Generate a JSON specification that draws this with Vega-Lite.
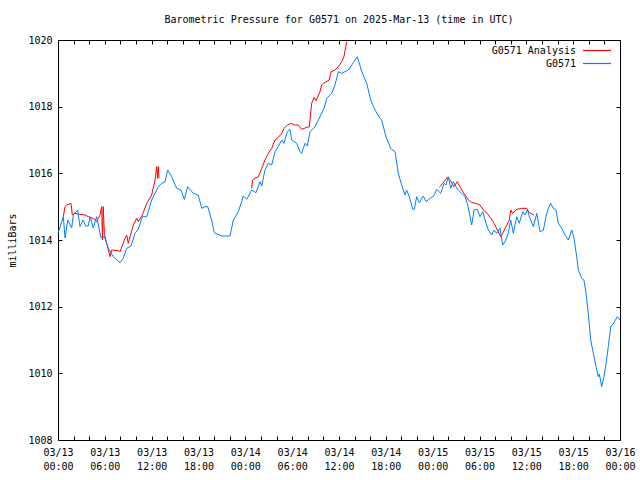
{
  "$schema": "https://vega.github.io/schema/vega-lite/v6.json",
  "width": 562,
  "height": 400,
  "autosize": "none",
  "padding": {"left": 58, "top": 40, "right": 20, "bottom": 40},
  "background": "white",
  "config": {
    "view": {"stroke": "black", "strokeWidth": 1},
    "font": "DejaVu Sans Mono",
    "axis": {"grid": false, "domain": false, "tickColor": "black", "labelColor": "black", "titleColor": "black", "labelFont": "DejaVu Sans Mono", "titleFont": "DejaVu Sans Mono", "labelFontSize": 10, "titleFontSize": 10, "titleFontWeight": "normal"}
  },
  "title": {"text": "Barometric Pressure for G0571 on 2025-Mar-13 (time in UTC)", "font": "DejaVu Sans Mono", "fontSize": 10, "fontWeight": "normal", "color": "black", "anchor": "middle", "offset": 10},
  "datasets": {
    "obs": [
      {"t": "2025-03-13T00:00:00Z", "p": 1014.2},
      {"t": "2025-03-13T00:41:00Z", "p": 1014.7},
      {"t": "2025-03-13T00:54:00Z", "p": 1014.06},
      {"t": "2025-03-13T01:15:00Z", "p": 1014.6},
      {"t": "2025-03-13T01:45:00Z", "p": 1014.36},
      {"t": "2025-03-13T01:58:00Z", "p": 1014.75},
      {"t": "2025-03-13T02:31:00Z", "p": 1014.9},
      {"t": "2025-03-13T02:49:00Z", "p": 1014.4},
      {"t": "2025-03-13T03:14:00Z", "p": 1014.6},
      {"t": "2025-03-13T03:33:00Z", "p": 1014.42},
      {"t": "2025-03-13T03:53:00Z", "p": 1014.42},
      {"t": "2025-03-13T04:06:00Z", "p": 1014.7},
      {"t": "2025-03-13T04:31:00Z", "p": 1014.36},
      {"t": "2025-03-13T04:57:00Z", "p": 1014.7},
      {"t": "2025-03-13T05:31:00Z", "p": 1014.06},
      {"t": "2025-03-13T05:56:00Z", "p": 1014.1},
      {"t": "2025-03-13T06:27:00Z", "p": 1013.75},
      {"t": "2025-03-13T07:05:00Z", "p": 1013.5},
      {"t": "2025-03-13T07:57:00Z", "p": 1013.32},
      {"t": "2025-03-13T08:22:00Z", "p": 1013.45},
      {"t": "2025-03-13T08:48:00Z", "p": 1013.75},
      {"t": "2025-03-13T09:21:00Z", "p": 1013.82},
      {"t": "2025-03-13T09:52:00Z", "p": 1014.2},
      {"t": "2025-03-13T10:17:00Z", "p": 1014.32},
      {"t": "2025-03-13T10:48:00Z", "p": 1014.7},
      {"t": "2025-03-13T11:22:00Z", "p": 1014.7},
      {"t": "2025-03-13T12:00:00Z", "p": 1015.2},
      {"t": "2025-03-13T12:51:00Z", "p": 1015.6},
      {"t": "2025-03-13T13:17:00Z", "p": 1015.7},
      {"t": "2025-03-13T13:43:00Z", "p": 1015.75},
      {"t": "2025-03-13T14:03:00Z", "p": 1016.1},
      {"t": "2025-03-13T14:34:00Z", "p": 1015.9},
      {"t": "2025-03-13T15:12:00Z", "p": 1015.55},
      {"t": "2025-03-13T15:45:00Z", "p": 1015.5},
      {"t": "2025-03-13T16:11:00Z", "p": 1015.22},
      {"t": "2025-03-13T16:37:00Z", "p": 1015.6},
      {"t": "2025-03-13T17:20:00Z", "p": 1015.4},
      {"t": "2025-03-13T17:58:00Z", "p": 1015.35},
      {"t": "2025-03-13T18:25:00Z", "p": 1014.95},
      {"t": "2025-03-13T18:50:00Z", "p": 1015.0},
      {"t": "2025-03-13T19:11:00Z", "p": 1015.0},
      {"t": "2025-03-13T19:41:00Z", "p": 1014.6},
      {"t": "2025-03-13T20:01:00Z", "p": 1014.22},
      {"t": "2025-03-13T20:58:00Z", "p": 1014.12},
      {"t": "2025-03-13T22:02:00Z", "p": 1014.12},
      {"t": "2025-03-13T22:28:00Z", "p": 1014.6},
      {"t": "2025-03-13T23:06:00Z", "p": 1014.85},
      {"t": "2025-03-13T23:32:00Z", "p": 1015.15},
      {"t": "2025-03-13T23:44:00Z", "p": 1015.32},
      {"t": "2025-03-14T00:11:00Z", "p": 1015.22},
      {"t": "2025-03-14T00:49:00Z", "p": 1015.5},
      {"t": "2025-03-14T01:22:00Z", "p": 1015.42},
      {"t": "2025-03-14T01:53:00Z", "p": 1015.75},
      {"t": "2025-03-14T02:06:00Z", "p": 1015.62},
      {"t": "2025-03-14T02:31:00Z", "p": 1016.1},
      {"t": "2025-03-14T02:57:00Z", "p": 1016.3},
      {"t": "2025-03-14T03:23:00Z", "p": 1016.25},
      {"t": "2025-03-14T03:48:00Z", "p": 1016.65},
      {"t": "2025-03-14T04:13:00Z", "p": 1016.8},
      {"t": "2025-03-14T04:40:00Z", "p": 1017.0},
      {"t": "2025-03-14T04:57:00Z", "p": 1016.9},
      {"t": "2025-03-14T05:23:00Z", "p": 1017.25},
      {"t": "2025-03-14T05:43:00Z", "p": 1017.32},
      {"t": "2025-03-14T05:56:00Z", "p": 1017.0},
      {"t": "2025-03-14T06:35:00Z", "p": 1016.9},
      {"t": "2025-03-14T07:00:00Z", "p": 1016.65},
      {"t": "2025-03-14T07:13:00Z", "p": 1016.6},
      {"t": "2025-03-14T07:39:00Z", "p": 1016.9},
      {"t": "2025-03-14T07:56:00Z", "p": 1016.82},
      {"t": "2025-03-14T08:17:00Z", "p": 1017.25},
      {"t": "2025-03-14T08:56:00Z", "p": 1017.4},
      {"t": "2025-03-14T09:34:00Z", "p": 1017.7},
      {"t": "2025-03-14T10:05:00Z", "p": 1017.95},
      {"t": "2025-03-14T10:26:00Z", "p": 1018.25},
      {"t": "2025-03-14T11:04:00Z", "p": 1018.4},
      {"t": "2025-03-14T11:29:00Z", "p": 1018.65},
      {"t": "2025-03-14T11:55:00Z", "p": 1019.05},
      {"t": "2025-03-14T12:21:00Z", "p": 1019.0},
      {"t": "2025-03-14T12:46:00Z", "p": 1019.05},
      {"t": "2025-03-14T13:12:00Z", "p": 1019.1},
      {"t": "2025-03-14T13:50:00Z", "p": 1019.32},
      {"t": "2025-03-14T14:21:00Z", "p": 1019.5},
      {"t": "2025-03-14T14:55:00Z", "p": 1019.05},
      {"t": "2025-03-14T15:33:00Z", "p": 1018.7},
      {"t": "2025-03-14T16:04:00Z", "p": 1018.2},
      {"t": "2025-03-14T16:37:00Z", "p": 1017.9},
      {"t": "2025-03-14T17:15:00Z", "p": 1017.65},
      {"t": "2025-03-14T17:28:00Z", "p": 1017.6},
      {"t": "2025-03-14T18:01:00Z", "p": 1017.1},
      {"t": "2025-03-14T18:37:00Z", "p": 1016.75},
      {"t": "2025-03-14T19:11:00Z", "p": 1016.65},
      {"t": "2025-03-14T19:36:00Z", "p": 1016.0},
      {"t": "2025-03-14T20:02:00Z", "p": 1015.65},
      {"t": "2025-03-14T20:27:00Z", "p": 1015.35},
      {"t": "2025-03-14T20:40:00Z", "p": 1015.5},
      {"t": "2025-03-14T21:00:00Z", "p": 1015.3},
      {"t": "2025-03-14T21:27:00Z", "p": 1014.92},
      {"t": "2025-03-14T21:39:00Z", "p": 1014.92},
      {"t": "2025-03-14T21:57:00Z", "p": 1015.3},
      {"t": "2025-03-14T22:17:00Z", "p": 1015.12},
      {"t": "2025-03-14T22:48:00Z", "p": 1015.32},
      {"t": "2025-03-14T23:09:00Z", "p": 1015.15},
      {"t": "2025-03-14T23:40:00Z", "p": 1015.25},
      {"t": "2025-03-15T00:10:00Z", "p": 1015.33},
      {"t": "2025-03-15T00:31:00Z", "p": 1015.52},
      {"t": "2025-03-15T01:02:00Z", "p": 1015.4},
      {"t": "2025-03-15T01:27:00Z", "p": 1015.7},
      {"t": "2025-03-15T01:43:00Z", "p": 1015.65},
      {"t": "2025-03-15T02:00:00Z", "p": 1015.9},
      {"t": "2025-03-15T02:19:00Z", "p": 1015.55},
      {"t": "2025-03-15T02:39:00Z", "p": 1015.75},
      {"t": "2025-03-15T02:59:00Z", "p": 1015.6},
      {"t": "2025-03-15T03:17:00Z", "p": 1015.5},
      {"t": "2025-03-15T03:43:00Z", "p": 1015.4},
      {"t": "2025-03-15T04:09:00Z", "p": 1015.3},
      {"t": "2025-03-15T04:26:00Z", "p": 1015.1},
      {"t": "2025-03-15T04:42:00Z", "p": 1014.82},
      {"t": "2025-03-15T05:00:00Z", "p": 1014.45},
      {"t": "2025-03-15T05:18:00Z", "p": 1014.9},
      {"t": "2025-03-15T05:43:00Z", "p": 1014.92},
      {"t": "2025-03-15T06:04:00Z", "p": 1014.7},
      {"t": "2025-03-15T06:25:00Z", "p": 1014.85},
      {"t": "2025-03-15T06:50:00Z", "p": 1014.5},
      {"t": "2025-03-15T07:08:00Z", "p": 1014.3},
      {"t": "2025-03-15T07:34:00Z", "p": 1014.15},
      {"t": "2025-03-15T07:52:00Z", "p": 1014.3},
      {"t": "2025-03-15T08:12:00Z", "p": 1014.2},
      {"t": "2025-03-15T08:38:00Z", "p": 1014.35},
      {"t": "2025-03-15T08:58:00Z", "p": 1013.85},
      {"t": "2025-03-15T09:16:00Z", "p": 1013.95},
      {"t": "2025-03-15T09:41:00Z", "p": 1014.2},
      {"t": "2025-03-15T10:00:00Z", "p": 1014.6},
      {"t": "2025-03-15T10:20:00Z", "p": 1014.2},
      {"t": "2025-03-15T10:46:00Z", "p": 1014.7},
      {"t": "2025-03-15T11:06:00Z", "p": 1014.5},
      {"t": "2025-03-15T11:32:00Z", "p": 1014.85},
      {"t": "2025-03-15T11:50:00Z", "p": 1014.75},
      {"t": "2025-03-15T12:08:00Z", "p": 1014.9},
      {"t": "2025-03-15T12:28:00Z", "p": 1014.65},
      {"t": "2025-03-15T12:54:00Z", "p": 1014.4},
      {"t": "2025-03-15T13:20:00Z", "p": 1014.8},
      {"t": "2025-03-15T13:45:00Z", "p": 1014.25},
      {"t": "2025-03-15T14:11:00Z", "p": 1014.3},
      {"t": "2025-03-15T14:31:00Z", "p": 1014.7},
      {"t": "2025-03-15T14:49:00Z", "p": 1014.95},
      {"t": "2025-03-15T15:07:00Z", "p": 1015.1},
      {"t": "2025-03-15T15:27:00Z", "p": 1014.95},
      {"t": "2025-03-15T15:48:00Z", "p": 1014.9},
      {"t": "2025-03-15T16:06:00Z", "p": 1014.5},
      {"t": "2025-03-15T16:32:00Z", "p": 1014.35},
      {"t": "2025-03-15T16:57:00Z", "p": 1014.15},
      {"t": "2025-03-15T17:23:00Z", "p": 1014.0},
      {"t": "2025-03-15T17:49:00Z", "p": 1014.3},
      {"t": "2025-03-15T18:07:00Z", "p": 1014.05},
      {"t": "2025-03-15T18:27:00Z", "p": 1013.5},
      {"t": "2025-03-15T18:40:00Z", "p": 1013.1},
      {"t": "2025-03-15T19:06:00Z", "p": 1012.85},
      {"t": "2025-03-15T19:23:00Z", "p": 1012.8},
      {"t": "2025-03-15T19:39:00Z", "p": 1012.4},
      {"t": "2025-03-15T19:56:00Z", "p": 1011.8},
      {"t": "2025-03-15T20:15:00Z", "p": 1011.0},
      {"t": "2025-03-15T20:35:00Z", "p": 1010.6},
      {"t": "2025-03-15T20:56:00Z", "p": 1010.2},
      {"t": "2025-03-15T21:13:00Z", "p": 1009.9},
      {"t": "2025-03-15T21:21:00Z", "p": 1009.98},
      {"t": "2025-03-15T21:39:00Z", "p": 1009.6},
      {"t": "2025-03-15T21:57:00Z", "p": 1009.9},
      {"t": "2025-03-15T22:13:00Z", "p": 1010.3},
      {"t": "2025-03-15T22:30:00Z", "p": 1010.8},
      {"t": "2025-03-15T22:49:00Z", "p": 1011.4},
      {"t": "2025-03-15T23:14:00Z", "p": 1011.52},
      {"t": "2025-03-15T23:39:00Z", "p": 1011.7},
      {"t": "2025-03-16T00:00:00Z", "p": 1011.6}
    ],
    "ana": [
      {"t": "2025-03-13T00:41:00Z", "p": 1014.7, "g": 1},
      {"t": "2025-03-13T00:54:00Z", "p": 1015.0, "g": 1},
      {"t": "2025-03-13T01:07:00Z", "p": 1015.05, "g": 1},
      {"t": "2025-03-13T01:40:00Z", "p": 1015.1, "g": 1},
      {"t": "2025-03-13T01:50:00Z", "p": 1014.75, "g": 1},
      {"t": "2025-03-13T02:05:00Z", "p": 1014.8, "g": 1},
      {"t": "2025-03-13T02:36:00Z", "p": 1014.78, "g": 1},
      {"t": "2025-03-13T03:28:00Z", "p": 1014.75, "g": 1},
      {"t": "2025-03-13T03:53:00Z", "p": 1014.7, "g": 1},
      {"t": "2025-03-13T04:44:00Z", "p": 1014.62, "g": 1},
      {"t": "2025-03-13T04:57:00Z", "p": 1014.55, "g": 1},
      {"t": "2025-03-13T05:23:00Z", "p": 1014.75, "g": 1},
      {"t": "2025-03-13T05:36:00Z", "p": 1015.0, "g": 1},
      {"t": "2025-03-13T05:42:00Z", "p": 1014.0, "g": 1},
      {"t": "2025-03-13T05:48:00Z", "p": 1015.0, "g": 1},
      {"t": "2025-03-13T05:56:00Z", "p": 1014.2, "g": 1},
      {"t": "2025-03-13T06:14:00Z", "p": 1013.9, "g": 1},
      {"t": "2025-03-13T06:40:00Z", "p": 1013.5, "g": 1},
      {"t": "2025-03-13T06:53:00Z", "p": 1013.7, "g": 1},
      {"t": "2025-03-13T07:44:00Z", "p": 1013.68, "g": 1},
      {"t": "2025-03-13T07:57:00Z", "p": 1013.65, "g": 1},
      {"t": "2025-03-13T08:35:00Z", "p": 1014.05, "g": 1},
      {"t": "2025-03-13T08:48:00Z", "p": 1014.15, "g": 1},
      {"t": "2025-03-13T09:00:00Z", "p": 1013.9, "g": 1},
      {"t": "2025-03-13T09:39:00Z", "p": 1014.45, "g": 1},
      {"t": "2025-03-13T10:05:00Z", "p": 1014.65, "g": 1},
      {"t": "2025-03-13T10:17:00Z", "p": 1014.55, "g": 1},
      {"t": "2025-03-13T10:48:00Z", "p": 1014.75, "g": 1},
      {"t": "2025-03-13T11:22:00Z", "p": 1015.1, "g": 1},
      {"t": "2025-03-13T12:00:00Z", "p": 1015.35, "g": 1},
      {"t": "2025-03-13T12:26:00Z", "p": 1015.8, "g": 1},
      {"t": "2025-03-13T12:39:00Z", "p": 1016.2, "g": 1},
      {"t": "2025-03-13T12:45:00Z", "p": 1015.85, "g": 1},
      {"t": "2025-03-13T12:51:00Z", "p": 1016.2, "g": 1},
      {"t": "2025-03-13T12:56:00Z", "p": 1015.85, "g": 1},
      {"t": "2025-03-14T00:49:00Z", "p": 1015.55, "g": 2},
      {"t": "2025-03-14T00:55:00Z", "p": 1015.8, "g": 2},
      {"t": "2025-03-14T01:14:00Z", "p": 1015.85, "g": 2},
      {"t": "2025-03-14T01:40:00Z", "p": 1015.9, "g": 2},
      {"t": "2025-03-14T02:06:00Z", "p": 1016.15, "g": 2},
      {"t": "2025-03-14T02:31:00Z", "p": 1016.4, "g": 2},
      {"t": "2025-03-14T02:57:00Z", "p": 1016.6, "g": 2},
      {"t": "2025-03-14T03:23:00Z", "p": 1016.75, "g": 2},
      {"t": "2025-03-14T03:48:00Z", "p": 1017.0, "g": 2},
      {"t": "2025-03-14T04:13:00Z", "p": 1017.08, "g": 2},
      {"t": "2025-03-14T04:40:00Z", "p": 1017.2, "g": 2},
      {"t": "2025-03-14T04:57:00Z", "p": 1017.35, "g": 2},
      {"t": "2025-03-14T05:23:00Z", "p": 1017.45, "g": 2},
      {"t": "2025-03-14T05:49:00Z", "p": 1017.5, "g": 2},
      {"t": "2025-03-14T06:22:00Z", "p": 1017.45, "g": 2},
      {"t": "2025-03-14T06:47:00Z", "p": 1017.45, "g": 2},
      {"t": "2025-03-14T07:13:00Z", "p": 1017.32, "g": 2},
      {"t": "2025-03-14T07:52:00Z", "p": 1017.38, "g": 2},
      {"t": "2025-03-14T08:12:00Z", "p": 1017.4, "g": 2},
      {"t": "2025-03-14T08:30:00Z", "p": 1018.1, "g": 2},
      {"t": "2025-03-14T08:48:00Z", "p": 1018.28, "g": 2},
      {"t": "2025-03-14T09:03:00Z", "p": 1018.18, "g": 2},
      {"t": "2025-03-14T09:34:00Z", "p": 1018.45, "g": 2},
      {"t": "2025-03-14T09:47:00Z", "p": 1018.65, "g": 2},
      {"t": "2025-03-14T09:59:00Z", "p": 1018.7, "g": 2},
      {"t": "2025-03-14T10:45:00Z", "p": 1018.8, "g": 2},
      {"t": "2025-03-14T10:59:00Z", "p": 1019.05, "g": 2},
      {"t": "2025-03-14T11:29:00Z", "p": 1019.1, "g": 2},
      {"t": "2025-03-14T11:55:00Z", "p": 1019.2, "g": 2},
      {"t": "2025-03-14T12:21:00Z", "p": 1019.35, "g": 2},
      {"t": "2025-03-14T12:38:00Z", "p": 1019.5, "g": 2},
      {"t": "2025-03-14T12:52:00Z", "p": 1019.8, "g": 2},
      {"t": "2025-03-14T12:59:00Z", "p": 1019.95, "g": 2},
      {"t": "2025-03-15T00:51:00Z", "p": 1015.58, "g": 3},
      {"t": "2025-03-15T01:17:00Z", "p": 1015.7, "g": 3},
      {"t": "2025-03-15T01:53:00Z", "p": 1015.88, "g": 3},
      {"t": "2025-03-15T02:13:00Z", "p": 1015.8, "g": 3},
      {"t": "2025-03-15T02:44:00Z", "p": 1015.6, "g": 3},
      {"t": "2025-03-15T03:09:00Z", "p": 1015.75, "g": 3},
      {"t": "2025-03-15T03:36:00Z", "p": 1015.55, "g": 3},
      {"t": "2025-03-15T04:09:00Z", "p": 1015.35, "g": 3},
      {"t": "2025-03-15T04:34:00Z", "p": 1015.2, "g": 3},
      {"t": "2025-03-15T05:00:00Z", "p": 1015.12, "g": 3},
      {"t": "2025-03-15T05:33:00Z", "p": 1015.1, "g": 3},
      {"t": "2025-03-15T06:04:00Z", "p": 1015.05, "g": 3},
      {"t": "2025-03-15T06:29:00Z", "p": 1014.9, "g": 3},
      {"t": "2025-03-15T07:00:00Z", "p": 1014.8, "g": 3},
      {"t": "2025-03-15T07:26:00Z", "p": 1014.65, "g": 3},
      {"t": "2025-03-15T07:52:00Z", "p": 1014.5, "g": 3},
      {"t": "2025-03-15T08:17:00Z", "p": 1014.3, "g": 3},
      {"t": "2025-03-15T08:43:00Z", "p": 1014.1, "g": 3},
      {"t": "2025-03-15T08:58:00Z", "p": 1014.2, "g": 3},
      {"t": "2025-03-15T09:24:00Z", "p": 1014.4, "g": 3},
      {"t": "2025-03-15T09:49:00Z", "p": 1014.6, "g": 3},
      {"t": "2025-03-15T10:00:00Z", "p": 1014.9, "g": 3},
      {"t": "2025-03-15T10:15:00Z", "p": 1014.8, "g": 3},
      {"t": "2025-03-15T10:46:00Z", "p": 1014.92, "g": 3},
      {"t": "2025-03-15T11:24:00Z", "p": 1014.95, "g": 3},
      {"t": "2025-03-15T12:03:00Z", "p": 1014.95, "g": 3},
      {"t": "2025-03-15T12:23:00Z", "p": 1014.82, "g": 3},
      {"t": "2025-03-15T12:59:00Z", "p": 1014.75, "g": 3}
    ]
  },
  "layer": [
    {
      "data": {"name": "ana"},
      "mark": {"type": "line", "strokeWidth": 1},
      "encoding": {
        "x": {"field": "t", "type": "temporal", "scale": {"type": "utc", "domain": [1741824000000, 1742083200000]},
          "axis": {"orient": "bottom", "title": null, "tickCount": 100,
            "values": [1741824000000, 1741831200000, 1741838400000, 1741845600000, 1741852800000, 1741860000000, 1741867200000, 1741874400000, 1741881600000, 1741888800000, 1741896000000, 1741903200000, 1741910400000, 1741917600000, 1741924800000, 1741932000000, 1741939200000, 1741946400000, 1741953600000, 1741960800000, 1741968000000, 1741975200000, 1741982400000, 1741989600000, 1741996800000, 1742004000000, 1742011200000, 1742018400000, 1742025600000, 1742032800000, 1742040000000, 1742047200000, 1742054400000, 1742061600000, 1742068800000, 1742076000000, 1742083200000],
            "tickSize": -4, "labelPadding": 11, "labelOverlap": false, "labelFlush": false, "labelBaseline": "top", "labelLineHeight": 14,
            "labelExpr": "utchours(datum.value) % 6 == 0 ? [utcFormat(datum.value, '%m/%d'), utcFormat(datum.value, '%H:%M')] : ''"}},
        "y": {"field": "p", "type": "quantitative", "scale": {"domain": [1008, 1020], "nice": false, "zero": false},
          "axis": {"orient": "left", "title": "milliBars", "values": [1008, 1010, 1012, 1014, 1016, 1018, 1020], "format": "d", "tickSize": -4, "labelPadding": 10, "titlePadding": 10}},
        "color": {"datum": "G0571 Analysis", "type": "nominal",
          "scale": {"domain": ["G0571 Analysis", "G0571"], "range": ["#ff0000", "#0080ff"]},
          "legend": {"title": null, "orient": "none", "legendX": 531, "legendY": 2.5, "direction": "vertical", "symbolType": "M-2,0H2", "symbolSize": 196, "symbolStrokeWidth": 1.2, "labelAlign": "right", "labelOffset": -29, "labelFont": "DejaVu Sans Mono", "labelFontSize": 10, "labelColor": "black", "rowPadding": 0, "padding": 0}},
        "detail": {"field": "g", "type": "nominal"}
      }
    },
    {
      "data": {"name": "obs"},
      "mark": {"type": "line", "strokeWidth": 1},
      "encoding": {
        "x": {"field": "t", "type": "temporal",
          "axis": {"orient": "top", "title": null, "labels": false, "tickCount": 100, "tickSize": -4,
            "values": [1741824000000, 1741831200000, 1741838400000, 1741845600000, 1741852800000, 1741860000000, 1741867200000, 1741874400000, 1741881600000, 1741888800000, 1741896000000, 1741903200000, 1741910400000, 1741917600000, 1741924800000, 1741932000000, 1741939200000, 1741946400000, 1741953600000, 1741960800000, 1741968000000, 1741975200000, 1741982400000, 1741989600000, 1741996800000, 1742004000000, 1742011200000, 1742018400000, 1742025600000, 1742032800000, 1742040000000, 1742047200000, 1742054400000, 1742061600000, 1742068800000, 1742076000000, 1742083200000]}},
        "y": {"field": "p", "type": "quantitative",
          "axis": {"orient": "right", "title": null, "labels": false, "tickSize": -4, "values": [1008, 1010, 1012, 1014, 1016, 1018, 1020]}},
        "color": {"datum": "G0571", "type": "nominal"}
      }
    }
  ],
  "resolve": {"axis": {"x": "independent", "y": "independent"}}
}
